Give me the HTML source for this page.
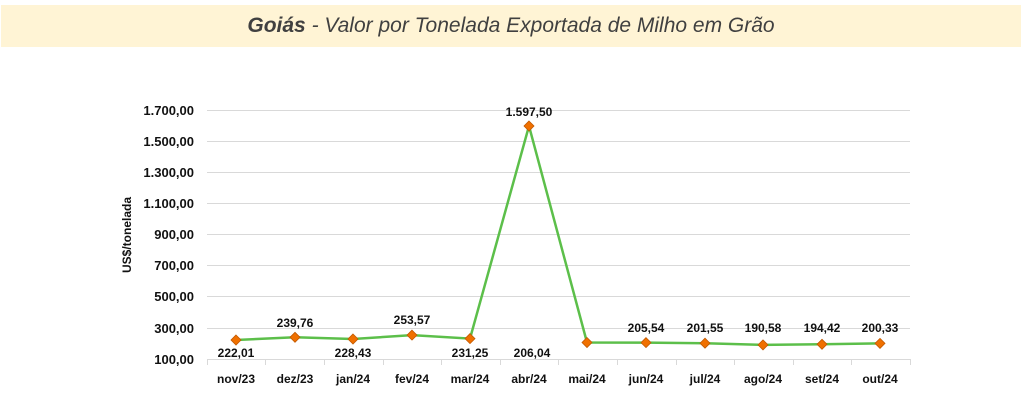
<!DOCTYPE html>
<html><head><meta charset="utf-8"><style>
body{margin:0;background:#fff;width:1024px;height:418px;overflow:hidden;font-family:"Liberation Sans",sans-serif}
.ban{position:absolute;left:1px;top:5px;width:1020px;height:42px;background:#fff4d5;text-align:center;line-height:42px;font-size:21px;color:#404040;font-style:italic}
</style></head><body>
<div class="ban"><b>Goiás</b> - Valor por Tonelada Exportada de Milho em Grão</div>
<svg width="1024" height="418" style="position:absolute;left:0;top:0" font-family="Liberation Sans, sans-serif" font-weight="bold" font-size="12" fill="#111">
<g stroke="#d9d9d9" stroke-width="1">
<line x1="207" x2="910" y1="110.5" y2="110.5"/><line x1="207" x2="910" y1="141.5" y2="141.5"/><line x1="207" x2="910" y1="172.5" y2="172.5"/><line x1="207" x2="910" y1="203.5" y2="203.5"/><line x1="207" x2="910" y1="234.5" y2="234.5"/><line x1="207" x2="910" y1="265.5" y2="265.5"/><line x1="207" x2="910" y1="296.5" y2="296.5"/><line x1="207" x2="910" y1="328.5" y2="328.5"/><line x1="207" x2="910" y1="359.5" y2="359.5"/>
<line x1="207.5" x2="207.5" y1="359" y2="365"/><line x1="265.5" x2="265.5" y1="359" y2="365"/><line x1="324.5" x2="324.5" y1="359" y2="365"/><line x1="383.5" x2="383.5" y1="359" y2="365"/><line x1="441.5" x2="441.5" y1="359" y2="365"/><line x1="500.5" x2="500.5" y1="359" y2="365"/><line x1="558.5" x2="558.5" y1="359" y2="365"/><line x1="617.5" x2="617.5" y1="359" y2="365"/><line x1="676.5" x2="676.5" y1="359" y2="365"/><line x1="734.5" x2="734.5" y1="359" y2="365"/><line x1="793.5" x2="793.5" y1="359" y2="365"/><line x1="851.5" x2="851.5" y1="359" y2="365"/><line x1="910.5" x2="910.5" y1="359" y2="365"/>
</g>
<g text-anchor="end" font-size="13">
<text x="194" y="115">1.700,00</text><text x="194" y="146">1.500,00</text><text x="194" y="177">1.300,00</text><text x="194" y="208">1.100,00</text><text x="194" y="239">900,00</text><text x="194" y="270">700,00</text><text x="194" y="301">500,00</text><text x="194" y="333">300,00</text><text x="194" y="364">100,00</text>
</g>
<text transform="translate(131,235) rotate(-90)" text-anchor="middle" font-size="12">US$/tonelada</text>
<g text-anchor="middle" font-size="12">
<text x="236" y="383">nov/23</text><text x="295" y="383">dez/23</text><text x="353" y="383">jan/24</text><text x="412" y="383">fev/24</text><text x="470" y="383">mar/24</text><text x="529" y="383">abr/24</text><text x="587" y="383">mai/24</text><text x="646" y="383">jun/24</text><text x="705" y="383">jul/24</text><text x="763" y="383">ago/24</text><text x="822" y="383">set/24</text><text x="880" y="383">out/24</text>
</g>
<polyline fill="none" stroke="#5cbf4a" stroke-width="2.5" points="236,340 295,337.3 353,339 412,335.1 470,338.6 529,126 587,342.5 646,342.6 705,343.2 763,344.9 822,344.3 880,343.4"/>
<g fill="#f07000" stroke="#c05800" stroke-width="0.8">
<path d="M236 335l5 5-5 5-5-5z"/><path d="M295 332.3l5 5-5 5-5-5z"/><path d="M353 334l5 5-5 5-5-5z"/><path d="M412 330.1l5 5-5 5-5-5z"/><path d="M470 333.6l5 5-5 5-5-5z"/><path d="M529 121l5 5-5 5-5-5z"/><path d="M587 337.5l5 5-5 5-5-5z"/><path d="M646 337.6l5 5-5 5-5-5z"/><path d="M705 338.2l5 5-5 5-5-5z"/><path d="M763 339.9l5 5-5 5-5-5z"/><path d="M822 339.3l5 5-5 5-5-5z"/><path d="M880 338.4l5 5-5 5-5-5z"/>
</g>
<g text-anchor="middle" font-size="12">
<text x="236" y="357">222,01</text><text x="295" y="327">239,76</text><text x="353" y="357">228,43</text><text x="412" y="324">253,57</text><text x="470" y="357">231,25</text><text x="529" y="116">1.597,50</text><text x="532" y="357">206,04</text><text x="646" y="332">205,54</text><text x="705" y="332">201,55</text><text x="763" y="332">190,58</text><text x="822" y="332">194,42</text><text x="880" y="332">200,33</text>
</g>
</svg>
</body></html>
